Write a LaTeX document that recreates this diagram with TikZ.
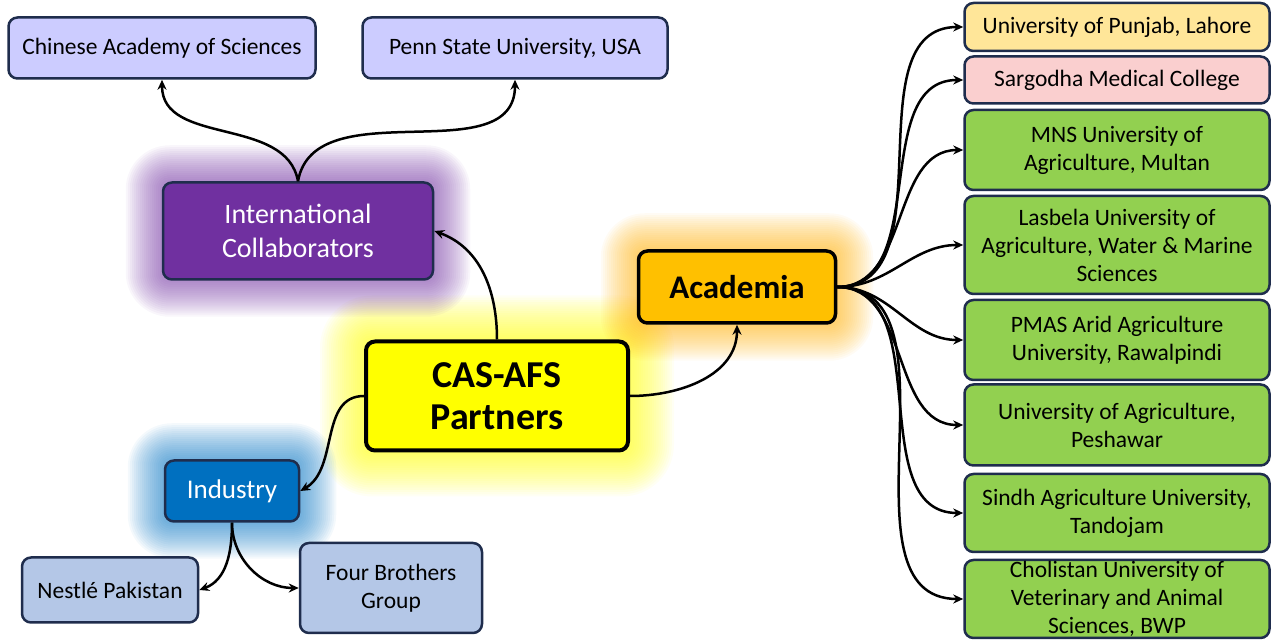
\documentclass[tikz,border=0pt]{standalone}
\usepackage{fontspec}
\setmainfont{Carlito}
\usetikzlibrary{arrows.meta,calc,backgrounds}
\definecolor{Navy}{HTML}{1F2D4D}
\definecolor{Lavender}{HTML}{CCCCFF}
\definecolor{Steel}{HTML}{B4C7E7}
\definecolor{Sand}{HTML}{FFE699}
\definecolor{Blush}{HTML}{FACFCF}
\definecolor{Leaf}{HTML}{92D050}
\definecolor{Purple}{HTML}{7030A0}
\definecolor{Ocean}{HTML}{0070C0}
\definecolor{Amber}{HTML}{FFC000}
\definecolor{Lemon}{HTML}{FFFF00}

% soft halo round a node: node, colour, steps, step size
\newcommand\glowbox[4]{%
  \foreach \i in {1,...,#3} {
    \pgfmathsetmacro\gd{#4*\i}
    \pgfmathsetmacro\gr{#4*\i+8}
    \fill[#2, opacity=0.045, rounded corners=\gr pt] ($(#1.south west)+(-\gd,-\gd)$) rectangle ($(#1.north east)+(\gd,\gd)$);
  }}

\begin{document}
\begin{tikzpicture}[x=1pt,y=1pt,
    box/.style={draw=Navy, line width=2.5pt, rounded corners=9pt, align=center, inner sep=0pt, font=\fontsize{23.5}{28}\selectfont},
    link/.style={line width=2.5pt, -{Stealth[length=10pt,width=9pt]}}]
  \useasboundingbox (0,0) rectangle (1280,640);

  % centre and main branches
  \node[box, draw=black, line width=4pt, fill=Lemon, minimum width=262, minimum height=109, font=\bfseries\fontsize{38}{42}\selectfont] (hub) at (497,244) {CAS-AFS\\Partners};
  \node[box, fill=Purple, text=white, minimum width=270, minimum height=97, font=\fontsize{28}{34}\selectfont] (intl) at (298,409) {International\\Collaborators};
  \node[box, draw=black, line width=3.5pt, fill=Amber, minimum width=197, minimum height=72, font=\bfseries\fontsize{33}{36}\selectfont] (acad) at (737,353) {Academia};
  \node[box, fill=Ocean, text=white, minimum width=134, minimum height=61, font=\fontsize{27}{30}\selectfont] (ind) at (232,149) {Industry};

  % international
  \node[box, fill=Lavender, minimum width=307, minimum height=61] (cas) at (162,592) {Chinese Academy of Sciences};
  \node[box, fill=Lavender, minimum width=305, minimum height=61] (psu) at (515,592) {Penn State University, USA};

  % industry
  \node[box, fill=Steel, minimum width=176, minimum height=65] (nestle) at (110,50) {Nestlé Pakistan};
  \node[box, fill=Steel, minimum width=182, minimum height=90] (fbg) at (391,52) {Four Brothers\\Group};

  % academia
  \node[box, fill=Sand, minimum width=305, minimum height=48] (punjab) at (1117,613) {University of Punjab, Lahore};
  \node[box, fill=Blush, minimum width=305, minimum height=47] (sargodha) at (1117,560) {Sargodha Medical College};
  \node[box, fill=Leaf, minimum width=305, minimum height=80] (mns) at (1117,490) {MNS University of\\Agriculture, Multan};
  \node[box, fill=Leaf, minimum width=305, minimum height=98] (lasbela) at (1117,395) {Lasbela University of\\Agriculture, Water \& Marine\\Sciences};
  \node[box, fill=Leaf, minimum width=305, minimum height=80] (pmas) at (1117,300) {PMAS Arid Agriculture\\University, Rawalpindi};
  \node[box, fill=Leaf, minimum width=305, minimum height=81] (pesh) at (1117,215) {University of Agriculture,\\Peshawar};
  \node[box, fill=Leaf, minimum width=305, minimum height=78] (sindh) at (1117,127) {Sindh Agriculture University,\\Tandojam};
  \node[box, fill=Leaf, minimum width=305, minimum height=78] (chol) at (1117,41) {Cholistan University of\\Veterinary and Animal\\Sciences, BWP};

  \begin{scope}[on background layer]
    \glowbox{hub}{Lemon}{20}{2.2}
    \glowbox{intl}{Purple}{18}{2}
    \glowbox{acad}{Amber!70!orange}{18}{2}
    \glowbox{ind}{Ocean}{18}{2}
  \end{scope}

  % connectors
  \draw[link] (intl.north) to[out=100,in=-90] (cas.south);
  \draw[link] (intl.north) to[out=80,in=-90] (psu.south);
  \draw[link] (hub.north) to[out=90,in=-20] (intl.east);
  \draw[link] (hub.east) to[out=0,in=-90] (acad.south);
  \draw[link] (hub.west) to[out=180,in=30] (ind.east);
  \draw[link] (ind.south) to[out=-90,in=20] (nestle.east);
  \draw[link] (ind.south) to[out=-90,in=180] (fbg.west);
  \foreach \n in {punjab,sargodha,mns,lasbela,pmas,pesh,sindh,chol}
    \draw[link] (acad.east) to[out=0,in=180] (\n.west);
\end{tikzpicture}
\end{document}
